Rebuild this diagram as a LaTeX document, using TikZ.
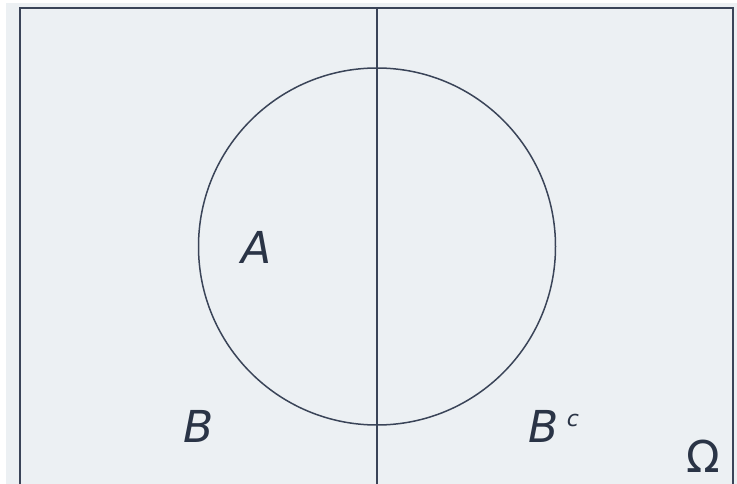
\documentclass[tikz,border=0pt]{standalone}
\usepackage{fontspec}
\setmainfont{DejaVu Sans}
\usetikzlibrary{positioning}
\definecolor{panelgray}{RGB}{236, 240, 243}
\definecolor{slateline}{RGB}{58, 68, 88}
\definecolor{slatetext}{RGB}{42, 52, 70}

\begin{document}
\begin{tikzpicture}[x=1pt, y=-1pt,
    setlabel/.style={text=slatetext, inner sep=0pt, font=\fontsize{44}{48}\selectfont}]
    % page and background panel
    \useasboundingbox (0,0) rectangle (737,484);
    \fill[panelgray] (6,3) rectangle (737,484);

    % sample space, split into B and its complement
    \draw[slateline, line width=2pt] (20,492) -- (20,8) -- (733,8) -- (733,492);
    \draw[slateline, line width=1.5pt] (377,8) -- (377,492);
    \draw[slateline, line width=1.5pt] (377,246.5) circle (178.5);

    % labels
    \node[setlabel] (seta) at (257,247) {\textit{A}};
    \node[setlabel] (setb) at (199,426) {\textit{B}};
    \node[setlabel, anchor=west] (setbc) at (528,426)
        {\textit{B}\kern8.5pt\raisebox{16pt}{\fontsize{22}{24}\selectfont\textit{c}}};
    \node[setlabel] (omega) at (703,456) {Ω};
\end{tikzpicture}
\end{document}
